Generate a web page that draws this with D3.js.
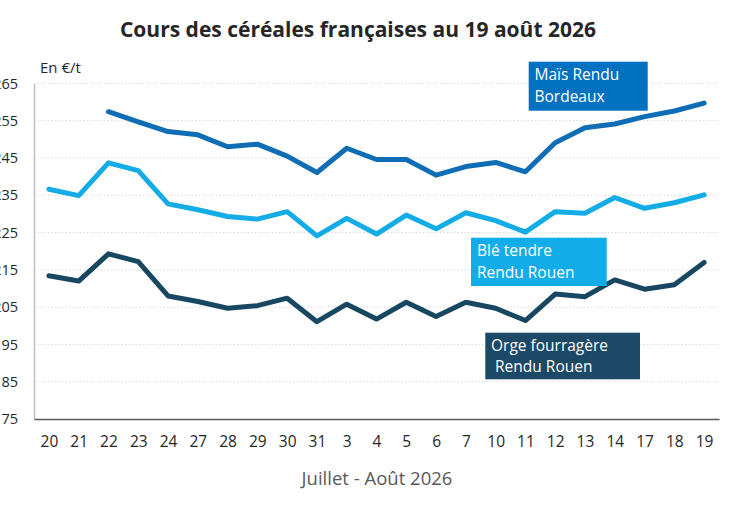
<!DOCTYPE html>
<html>
<head>
<meta charset="utf-8">
<script src="https://cdn.jsdelivr.net/npm/d3@7"></script>
<style>
  body { margin: 0; background: #fff; }
  svg { font-family: "Open Sans", "Liberation Sans", sans-serif; }
</style>
</head>
<body>
<div id="chart"></div>
<script>
// days on the x axis (juillet then août)
var days = ["20","21","22","23","24","27","28","29","30","31","3","4","5","6","7","10","11","12","13","14","17","18","19"];

// prices in €/t, null where there is no quote
var mais = [null, null, 257.4, 254.7, 252.1, 251.2, 248.0, 248.7, 245.5, 241.1, 247.6, 244.6, 244.6, 240.4, 242.7, 243.8, 241.3, 249.1, 253.1, 254.1, 256.1, 257.6, 259.7];
var ble = [236.6, 234.9, 243.7, 241.6, 232.7, 231.1, 229.3, 228.6, 230.6, 224.1, 228.8, 224.6, 229.7, 226.0, 230.3, 228.2, 225.1, 230.6, 230.2, 234.4, 231.5, 233.0, 235.1];
var orge = [213.4, 212.0, 219.3, 217.2, 208.0, 206.5, 204.7, 205.4, 207.4, 201.1, 205.8, 201.8, 206.3, 202.5, 206.3, 204.7, 201.4, 208.5, 207.8, 212.3, 209.8, 211.0, 217.0];

var yTicks = [175, 185, 195, 205, 215, 225, 235, 245, 255, 265];

var svgWidth = 747, svgHeight = 513;
var margin = {top: 83.4, right: 28, bottom: 94, left: 34};

var svg = d3.select('#chart')
    .append('svg')
    .attr('width', svgWidth)
    .attr('height', svgHeight);

var xScale = d3.scalePoint()
    .domain(days)
    .range([margin.left, svgWidth - margin.right])
    .padding(0.5);

var yScale = d3.scaleLinear()
    .domain([175, 265])
    .range([svgHeight - margin.bottom, margin.top]);

// title
svg.append('text')
    .attr('x', 358)
    .attr('y', 37)
    .attr('text-anchor', 'middle')
    .attr('font-size', 21)
    .attr('font-weight', 'bold')
    .attr('fill', '#262626')
    .text('Cours des céréales françaises au 19 août 2026');

// gridlines
svg.append('g')
    .selectAll('line')
    .data(yTicks.filter(d => d > 175))
    .enter()
    .append('line')
    .attr('x1', margin.left)
    .attr('x2', svgWidth - margin.right)
    .attr('y1', d => yScale(d))
    .attr('y2', d => yScale(d))
    .attr('stroke', '#d9d9d9')
    .attr('stroke-width', 1)
    .attr('stroke-dasharray', '1.5,2');

// y axis (labels run off the left edge, as in the original)
var yAxis = svg.append('g')
    .attr('transform', `translate(${margin.left},0)`)
    .call(d3.axisLeft(yScale).tickValues(yTicks).tickSize(0).tickPadding(16));
yAxis.select('.domain').attr('stroke', '#bfbfbf').attr('stroke-width', 1.5);
yAxis.selectAll('text').attr('font-size', 14.5).attr('fill', '#262626')
    .attr('font-family', '"Open Sans", sans-serif');

// x axis
var xAxis = svg.append('g')
    .attr('transform', `translate(0,${svgHeight - margin.bottom})`)
    .call(d3.axisBottom(xScale).tickSize(0).tickPadding(17));
xAxis.select('.domain').attr('stroke', '#595959').attr('stroke-width', 1.5);
xAxis.selectAll('text').attr('font-size', 15.5).attr('fill', '#262626')
    .attr('font-family', '"Open Sans", sans-serif');

// unit label
svg.append('text')
    .attr('x', 40)
    .attr('y', 73)
    .attr('font-size', 15)
    .attr('fill', '#262626')
    .text('En €/t');

// axis title
svg.append('text')
    .attr('x', 377)
    .attr('y', 485)
    .attr('text-anchor', 'middle')
    .attr('font-size', 18.5)
    .attr('fill', '#595959')
    .text('Juillet - Août 2026');

// lines
var series = [
    {name: 'orge', values: orge, color: '#184861'},
    {name: 'ble', values: ble, color: '#13ace6'},
    {name: 'mais', values: mais, color: '#0e6db4'}
];

var line = d3.line()
    .defined(d => d.v != null)
    .x(d => xScale(d.day))
    .y(d => yScale(d.v));

svg.append('g')
    .selectAll('path')
    .data(series)
    .enter()
    .append('path')
    .attr('d', s => line(days.map((day, i) => ({day: day, v: s.values[i]}))))
    .attr('fill', 'none')
    .attr('stroke', s => s.color)
    .attr('stroke-width', 5)
    .attr('stroke-linejoin', 'round')
    .attr('stroke-linecap', 'round');

// label boxes
var labels = [
    {x: 528.7, y: 61.7, w: 119, h: 49, fill: '#0070c0', lines: ['Maïs Rendu', 'Bordeaux'], tx: 534.5, ty: [80, 102]},
    {x: 471, y: 237.7, w: 135.7, h: 48.3, fill: '#12ade9', lines: ['Blé tendre', 'Rendu Rouen'], tx: 477, ty: [256, 278]},
    {x: 485.3, y: 332.7, w: 154.7, h: 46.6, fill: '#1b4966', lines: ['Orge fourragère', ' Rendu Rouen'], tx: 491, ty: [350.5, 372]}
];

var lab = svg.append('g')
    .selectAll('g')
    .data(labels)
    .enter()
    .append('g');

lab.append('rect')
    .attr('x', d => d.x)
    .attr('y', d => d.y)
    .attr('width', d => d.w)
    .attr('height', d => d.h)
    .attr('fill', d => d.fill);

lab.each(function(d) {
    var g = d3.select(this);
    d.lines.forEach(function(t, i) {
        g.append('text')
            .attr('x', d.tx)
            .attr('y', d.ty[i])
            .attr('font-size', 15.5)
            .attr('fill', '#fff')
            .attr('xml:space', 'preserve')
            .style('white-space', 'pre')
            .text(t);
    });
});
</script>
</body>
</html>
